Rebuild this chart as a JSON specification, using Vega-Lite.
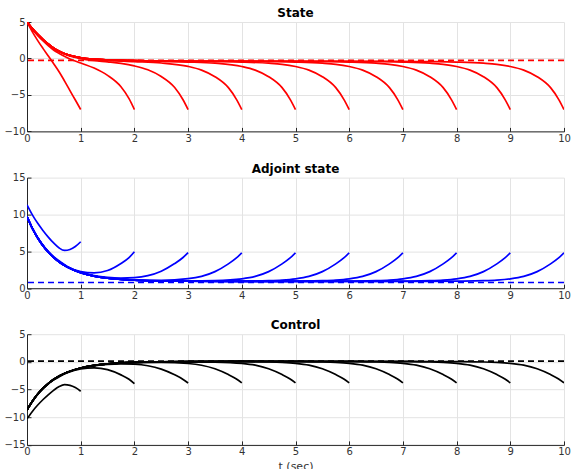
{
 "$schema": "https://vega.github.io/schema/vega-lite/v6.json",
 "padding": {"left": 3, "top": 7, "right": 0, "bottom": 0},
 "background": "white",
 "spacing": 45.6,
 "bounds": "flush",
 "datasets": {
  "sol": [
   {"T":1,"t":0,"x":5,"p":11.3,"u":-10.3},
   {"T":1,"t":0.1,"x":3.65,"p":9.95,"u":-8.95},
   {"T":1,"t":0.2,"x":2.45,"p":8.8,"u":-7.8},
   {"T":1,"t":0.3,"x":1.35,"p":7.8,"u":-6.8},
   {"T":1,"t":0.4,"x":0.3,"p":6.9,"u":-5.9},
   {"T":1,"t":0.5,"x":-0.75,"p":6.1,"u":-5.1},
   {"T":1,"t":0.6,"x":-1.85,"p":5.45,"u":-4.45},
   {"T":1,"t":0.7,"x":-3.1,"p":5.12,"u":-4.12},
   {"T":1,"t":0.8,"x":-4.4,"p":5.25,"u":-4.25},
   {"T":1,"t":0.9,"x":-5.7,"p":5.65,"u":-4.65},
   {"T":1,"t":1,"x":-7,"p":6.3,"u":-5.3},

   {"T":2,"t":0,"x":5,"p":9.72,"u":-8.72},
   {"T":2,"t":0.1,"x":3.96,"p":8.16,"u":-7.16},
   {"T":2,"t":0.2,"x":3.13,"p":6.87,"u":-5.87},
   {"T":2,"t":0.3,"x":2.4,"p":5.81,"u":-4.81},
   {"T":2,"t":0.4,"x":1.72,"p":4.95,"u":-3.95},
   {"T":2,"t":0.5,"x":1.13,"p":4.25,"u":-3.25},
   {"T":2,"t":0.6,"x":0.68,"p":3.69,"u":-2.69},
   {"T":2,"t":0.75,"x":0.1,"p":2.95,"u":-1.95},
   {"T":2,"t":1,"x":-0.62,"p":2.25,"u":-1.25},
   {"T":2,"t":1.25,"x":-1.32,"p":2.08,"u":-1.08},
   {"T":2,"t":1.5,"x":-2.32,"p":2.4,"u":-1.4},
   {"T":2,"t":1.75,"x":-3.88,"p":3.35,"u":-2.35},
   {"T":2,"t":1.9,"x":-5.51,"p":4.15,"u":-3.15},
   {"T":2,"t":2,"x":-7,"p":4.95,"u":-3.95},

   {"T":3,"t":0,"x":5,"p":9.7,"u":-8.7},
   {"T":3,"t":0.1,"x":4.08,"p":8.11,"u":-7.11},
   {"T":3,"t":0.2,"x":3.27,"p":6.81,"u":-5.81},
   {"T":3,"t":0.3,"x":2.57,"p":5.75,"u":-4.75},
   {"T":3,"t":0.4,"x":1.91,"p":4.88,"u":-3.88},
   {"T":3,"t":0.5,"x":1.35,"p":4.16,"u":-3.16},
   {"T":3,"t":0.6,"x":0.94,"p":3.58,"u":-2.58},
   {"T":3,"t":0.75,"x":0.44,"p":2.9,"u":-1.9},
   {"T":3,"t":1,"x":-0.02,"p":2.15,"u":-1.15},
   {"T":3,"t":1.25,"x":-0.29,"p":1.71,"u":-0.71},
   {"T":3,"t":1.5,"x":-0.47,"p":1.46,"u":-0.46},
   {"T":3,"t":1.75,"x":-0.68,"p":1.37,"u":-0.37},
   {"T":3,"t":2,"x":-1.02,"p":1.43,"u":-0.43},
   {"T":3,"t":2.25,"x":-1.55,"p":1.7,"u":-0.7},
   {"T":3,"t":2.5,"x":-2.47,"p":2.31,"u":-1.31},
   {"T":3,"t":2.75,"x":-3.98,"p":3.34,"u":-2.34},
   {"T":3,"t":2.9,"x":-5.59,"p":4.13,"u":-3.13},
   {"T":3,"t":3,"x":-7,"p":4.82,"u":-3.82},

   {"T":4,"t":0,"x":5,"p":9.7,"u":-8.7},
   {"T":4,"t":0.1,"x":4.1,"p":8.11,"u":-7.11},
   {"T":4,"t":0.2,"x":3.3,"p":6.81,"u":-5.81},
   {"T":4,"t":0.3,"x":2.6,"p":5.74,"u":-4.74},
   {"T":4,"t":0.4,"x":1.95,"p":4.87,"u":-3.87},
   {"T":4,"t":0.5,"x":1.39,"p":4.15,"u":-3.15},
   {"T":4,"t":0.6,"x":0.99,"p":3.56,"u":-2.56},
   {"T":4,"t":0.75,"x":0.51,"p":2.88,"u":-1.88},
   {"T":4,"t":1,"x":0.08,"p":2.11,"u":-1.11},
   {"T":4,"t":1.25,"x":-0.13,"p":1.65,"u":-0.65},
   {"T":4,"t":1.5,"x":-0.25,"p":1.37,"u":-0.37},
   {"T":4,"t":2,"x":-0.42,"p":1.12,"u":-0.12},
   {"T":4,"t":2.5,"x":-0.62,"p":1.08,"u":-0.08},
   {"T":4,"t":3,"x":-1.09,"p":1.29,"u":-0.29},
   {"T":4,"t":3.25,"x":-1.6,"p":1.61,"u":-0.61},
   {"T":4,"t":3.5,"x":-2.5,"p":2.25,"u":-1.25},
   {"T":4,"t":3.75,"x":-4,"p":3.3,"u":-2.3},
   {"T":4,"t":3.9,"x":-5.6,"p":4.1,"u":-3.1},
   {"T":4,"t":4,"x":-7,"p":4.8,"u":-3.8},

   {"T":5,"t":0,"x":5,"p":9.7,"u":-8.7},
   {"T":5,"t":0.1,"x":4.1,"p":8.11,"u":-7.11},
   {"T":5,"t":0.2,"x":3.3,"p":6.81,"u":-5.81},
   {"T":5,"t":0.3,"x":2.6,"p":5.74,"u":-4.74},
   {"T":5,"t":0.4,"x":1.95,"p":4.87,"u":-3.87},
   {"T":5,"t":0.5,"x":1.4,"p":4.15,"u":-3.15},
   {"T":5,"t":0.6,"x":1,"p":3.56,"u":-2.56},
   {"T":5,"t":0.75,"x":0.52,"p":2.88,"u":-1.88},
   {"T":5,"t":1,"x":0.1,"p":2.11,"u":-1.11},
   {"T":5,"t":1.25,"x":-0.1,"p":1.64,"u":-0.64},
   {"T":5,"t":1.5,"x":-0.21,"p":1.36,"u":-0.36},
   {"T":5,"t":2,"x":-0.32,"p":1.08,"u":-0.08},
   {"T":5,"t":2.5,"x":-0.4,"p":0.99,"u":0.01},
   {"T":5,"t":3,"x":-0.49,"p":0.98,"u":0.02},
   {"T":5,"t":3.5,"x":-0.65,"p":1.03,"u":-0.03},
   {"T":5,"t":4,"x":-1.1,"p":1.27,"u":-0.27},
   {"T":5,"t":4.25,"x":-1.6,"p":1.6,"u":-0.6},
   {"T":5,"t":4.5,"x":-2.5,"p":2.25,"u":-1.25},
   {"T":5,"t":4.75,"x":-4,"p":3.3,"u":-2.3},
   {"T":5,"t":4.9,"x":-5.6,"p":4.1,"u":-3.1},
   {"T":5,"t":5,"x":-7,"p":4.8,"u":-3.8},

   {"T":6,"t":0,"x":5,"p":9.7,"u":-8.7},
   {"T":6,"t":0.1,"x":4.1,"p":8.11,"u":-7.11},
   {"T":6,"t":0.2,"x":3.3,"p":6.81,"u":-5.81},
   {"T":6,"t":0.3,"x":2.6,"p":5.74,"u":-4.74},
   {"T":6,"t":0.4,"x":1.95,"p":4.87,"u":-3.87},
   {"T":6,"t":0.5,"x":1.4,"p":4.15,"u":-3.15},
   {"T":6,"t":0.6,"x":1,"p":3.56,"u":-2.56},
   {"T":6,"t":0.75,"x":0.52,"p":2.88,"u":-1.88},
   {"T":6,"t":1,"x":0.1,"p":2.11,"u":-1.11},
   {"T":6,"t":1.25,"x":-0.1,"p":1.64,"u":-0.64},
   {"T":6,"t":1.5,"x":-0.2,"p":1.36,"u":-0.36},
   {"T":6,"t":2,"x":-0.3,"p":1.08,"u":-0.08},
   {"T":6,"t":2.5,"x":-0.35,"p":0.98,"u":0.02},
   {"T":6,"t":3,"x":-0.38,"p":0.94,"u":0.06},
   {"T":6,"t":3.5,"x":-0.43,"p":0.93,"u":0.07},
   {"T":6,"t":4,"x":-0.5,"p":0.96,"u":0.04},
   {"T":6,"t":4.5,"x":-0.65,"p":1.02,"u":-0.02},
   {"T":6,"t":4.75,"x":-0.8,"p":1.1,"u":-0.1},
   {"T":6,"t":5,"x":-1.1,"p":1.27,"u":-0.27},
   {"T":6,"t":5.25,"x":-1.6,"p":1.6,"u":-0.6},
   {"T":6,"t":5.5,"x":-2.5,"p":2.25,"u":-1.25},
   {"T":6,"t":5.75,"x":-4,"p":3.3,"u":-2.3},
   {"T":6,"t":5.9,"x":-5.6,"p":4.1,"u":-3.1},
   {"T":6,"t":6,"x":-7,"p":4.8,"u":-3.8},

   {"T":7,"t":0,"x":5,"p":9.7,"u":-8.7},
   {"T":7,"t":0.1,"x":4.1,"p":8.11,"u":-7.11},
   {"T":7,"t":0.2,"x":3.3,"p":6.81,"u":-5.81},
   {"T":7,"t":0.3,"x":2.6,"p":5.74,"u":-4.74},
   {"T":7,"t":0.4,"x":1.95,"p":4.87,"u":-3.87},
   {"T":7,"t":0.5,"x":1.4,"p":4.15,"u":-3.15},
   {"T":7,"t":0.6,"x":1,"p":3.56,"u":-2.56},
   {"T":7,"t":0.75,"x":0.52,"p":2.88,"u":-1.88},
   {"T":7,"t":1,"x":0.1,"p":2.11,"u":-1.11},
   {"T":7,"t":1.25,"x":-0.1,"p":1.64,"u":-0.64},
   {"T":7,"t":1.5,"x":-0.2,"p":1.36,"u":-0.36},
   {"T":7,"t":2,"x":-0.3,"p":1.08,"u":-0.08},
   {"T":7,"t":2.5,"x":-0.35,"p":0.98,"u":0.02},
   {"T":7,"t":3,"x":-0.38,"p":0.94,"u":0.06},
   {"T":7,"t":4,"x":-0.38,"p":0.92,"u":0.08},
   {"T":7,"t":4.5,"x":-0.43,"p":0.93,"u":0.07},
   {"T":7,"t":5,"x":-0.5,"p":0.96,"u":0.04},
   {"T":7,"t":5.5,"x":-0.65,"p":1.02,"u":-0.02},
   {"T":7,"t":5.75,"x":-0.8,"p":1.1,"u":-0.1},
   {"T":7,"t":6,"x":-1.1,"p":1.27,"u":-0.27},
   {"T":7,"t":6.25,"x":-1.6,"p":1.6,"u":-0.6},
   {"T":7,"t":6.5,"x":-2.5,"p":2.25,"u":-1.25},
   {"T":7,"t":6.75,"x":-4,"p":3.3,"u":-2.3},
   {"T":7,"t":6.9,"x":-5.6,"p":4.1,"u":-3.1},
   {"T":7,"t":7,"x":-7,"p":4.8,"u":-3.8},

   {"T":8,"t":0,"x":5,"p":9.7,"u":-8.7},
   {"T":8,"t":0.1,"x":4.1,"p":8.11,"u":-7.11},
   {"T":8,"t":0.2,"x":3.3,"p":6.81,"u":-5.81},
   {"T":8,"t":0.3,"x":2.6,"p":5.74,"u":-4.74},
   {"T":8,"t":0.4,"x":1.95,"p":4.87,"u":-3.87},
   {"T":8,"t":0.5,"x":1.4,"p":4.15,"u":-3.15},
   {"T":8,"t":0.6,"x":1,"p":3.56,"u":-2.56},
   {"T":8,"t":0.75,"x":0.52,"p":2.88,"u":-1.88},
   {"T":8,"t":1,"x":0.1,"p":2.11,"u":-1.11},
   {"T":8,"t":1.25,"x":-0.1,"p":1.64,"u":-0.64},
   {"T":8,"t":1.5,"x":-0.2,"p":1.36,"u":-0.36},
   {"T":8,"t":2,"x":-0.3,"p":1.08,"u":-0.08},
   {"T":8,"t":2.5,"x":-0.35,"p":0.98,"u":0.02},
   {"T":8,"t":3,"x":-0.38,"p":0.94,"u":0.06},
   {"T":8,"t":4,"x":-0.38,"p":0.92,"u":0.08},
   {"T":8,"t":5,"x":-0.38,"p":0.92,"u":0.08},
   {"T":8,"t":5.5,"x":-0.43,"p":0.93,"u":0.07},
   {"T":8,"t":6,"x":-0.5,"p":0.96,"u":0.04},
   {"T":8,"t":6.5,"x":-0.65,"p":1.02,"u":-0.02},
   {"T":8,"t":6.75,"x":-0.8,"p":1.1,"u":-0.1},
   {"T":8,"t":7,"x":-1.1,"p":1.27,"u":-0.27},
   {"T":8,"t":7.25,"x":-1.6,"p":1.6,"u":-0.6},
   {"T":8,"t":7.5,"x":-2.5,"p":2.25,"u":-1.25},
   {"T":8,"t":7.75,"x":-4,"p":3.3,"u":-2.3},
   {"T":8,"t":7.9,"x":-5.6,"p":4.1,"u":-3.1},
   {"T":8,"t":8,"x":-7,"p":4.8,"u":-3.8},

   {"T":9,"t":0,"x":5,"p":9.7,"u":-8.7},
   {"T":9,"t":0.1,"x":4.1,"p":8.11,"u":-7.11},
   {"T":9,"t":0.2,"x":3.3,"p":6.81,"u":-5.81},
   {"T":9,"t":0.3,"x":2.6,"p":5.74,"u":-4.74},
   {"T":9,"t":0.4,"x":1.95,"p":4.87,"u":-3.87},
   {"T":9,"t":0.5,"x":1.4,"p":4.15,"u":-3.15},
   {"T":9,"t":0.6,"x":1,"p":3.56,"u":-2.56},
   {"T":9,"t":0.75,"x":0.52,"p":2.88,"u":-1.88},
   {"T":9,"t":1,"x":0.1,"p":2.11,"u":-1.11},
   {"T":9,"t":1.25,"x":-0.1,"p":1.64,"u":-0.64},
   {"T":9,"t":1.5,"x":-0.2,"p":1.36,"u":-0.36},
   {"T":9,"t":2,"x":-0.3,"p":1.08,"u":-0.08},
   {"T":9,"t":2.5,"x":-0.35,"p":0.98,"u":0.02},
   {"T":9,"t":3,"x":-0.38,"p":0.94,"u":0.06},
   {"T":9,"t":4,"x":-0.38,"p":0.92,"u":0.08},
   {"T":9,"t":5,"x":-0.38,"p":0.92,"u":0.08},
   {"T":9,"t":6,"x":-0.38,"p":0.92,"u":0.08},
   {"T":9,"t":6.5,"x":-0.43,"p":0.93,"u":0.07},
   {"T":9,"t":7,"x":-0.5,"p":0.96,"u":0.04},
   {"T":9,"t":7.5,"x":-0.65,"p":1.02,"u":-0.02},
   {"T":9,"t":7.75,"x":-0.8,"p":1.1,"u":-0.1},
   {"T":9,"t":8,"x":-1.1,"p":1.27,"u":-0.27},
   {"T":9,"t":8.25,"x":-1.6,"p":1.6,"u":-0.6},
   {"T":9,"t":8.5,"x":-2.5,"p":2.25,"u":-1.25},
   {"T":9,"t":8.75,"x":-4,"p":3.3,"u":-2.3},
   {"T":9,"t":8.9,"x":-5.6,"p":4.1,"u":-3.1},
   {"T":9,"t":9,"x":-7,"p":4.8,"u":-3.8},

   {"T":10,"t":0,"x":5,"p":9.7,"u":-8.7},
   {"T":10,"t":0.1,"x":4.1,"p":8.11,"u":-7.11},
   {"T":10,"t":0.2,"x":3.3,"p":6.81,"u":-5.81},
   {"T":10,"t":0.3,"x":2.6,"p":5.74,"u":-4.74},
   {"T":10,"t":0.4,"x":1.95,"p":4.87,"u":-3.87},
   {"T":10,"t":0.5,"x":1.4,"p":4.15,"u":-3.15},
   {"T":10,"t":0.6,"x":1,"p":3.56,"u":-2.56},
   {"T":10,"t":0.75,"x":0.52,"p":2.88,"u":-1.88},
   {"T":10,"t":1,"x":0.1,"p":2.11,"u":-1.11},
   {"T":10,"t":1.25,"x":-0.1,"p":1.64,"u":-0.64},
   {"T":10,"t":1.5,"x":-0.2,"p":1.36,"u":-0.36},
   {"T":10,"t":2,"x":-0.3,"p":1.08,"u":-0.08},
   {"T":10,"t":2.5,"x":-0.35,"p":0.98,"u":0.02},
   {"T":10,"t":3,"x":-0.38,"p":0.94,"u":0.06},
   {"T":10,"t":4,"x":-0.38,"p":0.92,"u":0.08},
   {"T":10,"t":5,"x":-0.38,"p":0.92,"u":0.08},
   {"T":10,"t":6,"x":-0.38,"p":0.92,"u":0.08},
   {"T":10,"t":7,"x":-0.38,"p":0.92,"u":0.08},
   {"T":10,"t":7.5,"x":-0.43,"p":0.93,"u":0.07},
   {"T":10,"t":8,"x":-0.5,"p":0.96,"u":0.04},
   {"T":10,"t":8.5,"x":-0.65,"p":1.02,"u":-0.02},
   {"T":10,"t":8.75,"x":-0.8,"p":1.1,"u":-0.1},
   {"T":10,"t":9,"x":-1.1,"p":1.27,"u":-0.27},
   {"T":10,"t":9.25,"x":-1.6,"p":1.6,"u":-0.6},
   {"T":10,"t":9.5,"x":-2.5,"p":2.25,"u":-1.25},
   {"T":10,"t":9.75,"x":-4,"p":3.3,"u":-2.3},
   {"T":10,"t":9.9,"x":-5.6,"p":4.1,"u":-3.1},
   {"T":10,"t":10,"x":-7,"p":4.8,"u":-3.8}
  ]
 },
 "config": {
  "view": {"stroke": null},
  "font": "DejaVu Sans",
  "axis": {
   "grid": true, "gridColor": "#e3e3e3", "gridWidth": 1,
   "domainColor": "#262626", "domainWidth": 1,
   "tickColor": "#262626", "tickSize": -4, "tickWidth": 1,
   "labelColor": "#333333", "labelFont": "DejaVu Sans", "labelFontSize": 10,
   "labelOverlap": false, "labelBound": false,
   "titleFont": "DejaVu Sans", "titleFontSize": 11, "titleFontWeight": "normal", "titleColor": "#333333"
  },
  "axisX": {"labelPadding": 6, "labelFlush": false, "titlePadding": 4},
  "axisY": {"labelPadding": 6, "labelFlush": false},
  "title": {"fontSize": 12, "fontWeight": "bold", "font": "DejaVu Sans", "color": "#000000", "offset": -3, "anchor": "middle"}
 },
 "vconcat": [
  {
   "width": 537, "height": 109.4,
   "title": "State",
   "layer": [
    {
     "data": {"name": "sol"},
     "mark": {"type": "line", "interpolate": "monotone", "color": "#ff0000", "strokeWidth": 1.7, "clip": true},
     "encoding": {
      "x": {"field": "t", "type": "quantitative", "scale": {"domain": [0, 10], "nice": false}, "axis": {"values": [0,1,2,3,4,5,6,7,8,9,10], "title": null}},
      "y": {"field": "x", "type": "quantitative", "scale": {"domain": [-10, 5], "nice": false}, "axis": {"values": [-10,-5,0,5], "title": null}},
      "detail": {"field": "T", "type": "nominal"}
     }
    },
    {
     "data": {"values": [{"ref": -0.27}]},
     "mark": {"type": "rule", "color": "#ff0000", "strokeWidth": 1.7, "strokeDash": [6, 4]},
     "encoding": {"y": {"field": "ref", "type": "quantitative", "scale": {"domain": [-10, 5], "nice": false}, "axis": {"values": [-10,-5,0,5], "title": null}}}
    }
   ]
  },
  {
   "width": 537, "height": 110.6,
   "title": "Adjoint state",
   "layer": [
    {
     "data": {"name": "sol"},
     "mark": {"type": "line", "interpolate": "monotone", "color": "#0000ff", "strokeWidth": 1.7, "clip": true},
     "encoding": {
      "x": {"field": "t", "type": "quantitative", "scale": {"domain": [0, 10], "nice": false}, "axis": {"values": [0,1,2,3,4,5,6,7,8,9,10], "title": null}},
      "y": {"field": "p", "type": "quantitative", "scale": {"domain": [0, 15], "nice": false}, "axis": {"values": [0,5,10,15], "title": null}},
      "detail": {"field": "T", "type": "nominal"}
     }
    },
    {
     "data": {"values": [{"ref": 0.77}]},
     "mark": {"type": "rule", "color": "#0000ff", "strokeWidth": 1.7, "strokeDash": [6, 4]},
     "encoding": {"y": {"field": "ref", "type": "quantitative", "scale": {"domain": [0, 15], "nice": false}, "axis": {"values": [0,5,10,15], "title": null}}}
    }
   ]
  },
  {
   "width": 537, "height": 110.7,
   "title": "Control",
   "layer": [
    {
     "data": {"name": "sol"},
     "mark": {"type": "line", "interpolate": "monotone", "color": "#000000", "strokeWidth": 1.7, "clip": true},
     "encoding": {
      "x": {"field": "t", "type": "quantitative", "scale": {"domain": [0, 10], "nice": false}, "axis": {"values": [0,1,2,3,4,5,6,7,8,9,10], "title": "t (sec)"}},
      "y": {"field": "u", "type": "quantitative", "scale": {"domain": [-15, 5], "nice": false}, "axis": {"values": [-15,-10,-5,0,5], "title": null}},
      "detail": {"field": "T", "type": "nominal"}
     }
    },
    {
     "data": {"values": [{"ref": 0.12}]},
     "mark": {"type": "rule", "color": "#000000", "strokeWidth": 1.7, "strokeDash": [6, 4]},
     "encoding": {"y": {"field": "ref", "type": "quantitative", "scale": {"domain": [-15, 5], "nice": false}, "axis": {"values": [-15,-10,-5,0,5], "title": null}}}
    }
   ]
  }
 ]
}
